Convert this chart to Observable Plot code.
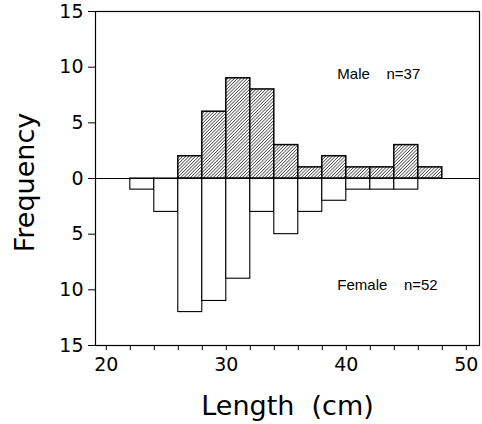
<!DOCTYPE html>
<html>
<head>
<meta charset="utf-8">
<script src="https://cdn.jsdelivr.net/npm/d3@7"></script>
<script src="https://cdn.jsdelivr.net/npm/@observablehq/plot@0.6"></script>
<style>
  html, body { margin: 0; padding: 0; background: #fff; }
</style>
</head>
<body>
<div id="chart"></div>
<script>
// Bin starts (cm), bin width 2 cm
const binStarts = [22, 24, 26, 28, 30, 32, 34, 36, 38, 40, 42, 44, 46];
const maleCounts = [0, 0, 2, 6, 9, 8, 3, 1, 2, 1, 1, 3, 1];
const femaleCounts = [1, 3, 12, 11, 9, 3, 5, 3, 2, 1, 1, 1, 0];
const binWidth = 2;
const yTicks = [-15, -10, -5, 0, 5, 10, 15];
const xMajorTicks = [20, 30, 40, 50];
const xMinorTicks = [20, 22, 24, 26, 28, 30, 32, 34, 36, 38, 40, 42, 44, 46, 48, 50];
const maleLabel = ["Male", "n=37"];
const femaleLabel = ["Female", "n=52"];

const male = binStarts.map((s, i) => ({x1: s, x2: s + binWidth, y: maleCounts[i]})).filter(d => d.y > 0);
const female = binStarts.map((s, i) => ({x1: s, x2: s + binWidth, y: -femaleCounts[i]})).filter(d => d.y < 0);

const font = "DejaVu Sans";
const svg = Plot.plot({
  width: 482,
  height: 424,
  marginLeft: 95,
  marginRight: 3,
  marginTop: 11,
  marginBottom: 79,
  style: {fontFamily: font, background: "#fff", color: "#000"},
  x: {domain: [19.1, 51.1]},
  y: {domain: [-15, 15]},
  marks: [
    Plot.rectY(female, {x1: "x1", x2: "x2", y1: 0, y2: "y", fill: "white", stroke: "black", strokeWidth: 1.1}),
    Plot.rectY(male, {x1: "x1", x2: "x2", y1: 0, y2: "y", fill: "url(#hatch)", stroke: "black", strokeWidth: 1.5}),
    Plot.ruleY([0], {stroke: "black", strokeWidth: 1}),
    Plot.frame({stroke: "black", strokeWidth: 1.2}),
    Plot.axisY({ticks: yTicks, tickFormat: d => Math.abs(d), tickSize: 7, tickPadding: 5, fontSize: 19, label: null, style: {letterSpacing: "2px"}}),
    Plot.axisX({ticks: xMinorTicks, tickFormat: () => "", tickSize: 5, label: null}),
    Plot.axisX({ticks: xMajorTicks, tickSize: 0, tickPadding: 12, fontSize: 19, label: null, style: {letterSpacing: "2px"}}),
    Plot.text([maleLabel[0]], {x: 39.25, y: 9.4, text: d => d, textAnchor: "start", fontSize: 15, fontFamily: "Liberation Sans"}),
    Plot.text([maleLabel[1]], {x: 43.35, y: 9.4, text: d => d, textAnchor: "start", fontSize: 15, fontFamily: "Liberation Sans"}),
    Plot.text([femaleLabel[0]], {x: 39.25, y: -9.6, text: d => d, textAnchor: "start", fontSize: 15, fontFamily: "Liberation Sans"}),
    Plot.text([femaleLabel[1]], {x: 44.8, y: -9.6, text: d => d, textAnchor: "start", fontSize: 15, fontFamily: "Liberation Sans"}),
    Plot.text(["Frequency"], {frameAnchor: "left", text: d => d, rotate: -90, textAnchor: "middle", lineAnchor: "middle", dx: -70, dy: 4, fontSize: 27}),
    Plot.text(["Length\u00a0\u00a0(cm)"], {frameAnchor: "bottom", text: d => d, textAnchor: "middle", lineAnchor: "middle", dy: 61, fontSize: 27})
  ]
});

const defs = d3.select(svg).insert("defs", ":first-child");
const pat = defs.append("pattern")
  .attr("id", "hatch")
  .attr("patternUnits", "userSpaceOnUse")
  .attr("width", 2.3)
  .attr("height", 2.3)
  .attr("patternTransform", "rotate(45)");
pat.append("rect").attr("width", 2.3).attr("height", 2.3).attr("fill", "white");
pat.append("line").attr("x1", 0).attr("y1", 0).attr("x2", 0).attr("y2", 2.3)
  .attr("stroke", "#111").attr("stroke-width", 1.2);

document.getElementById("chart").appendChild(svg);
</script>
</body>
</html>
